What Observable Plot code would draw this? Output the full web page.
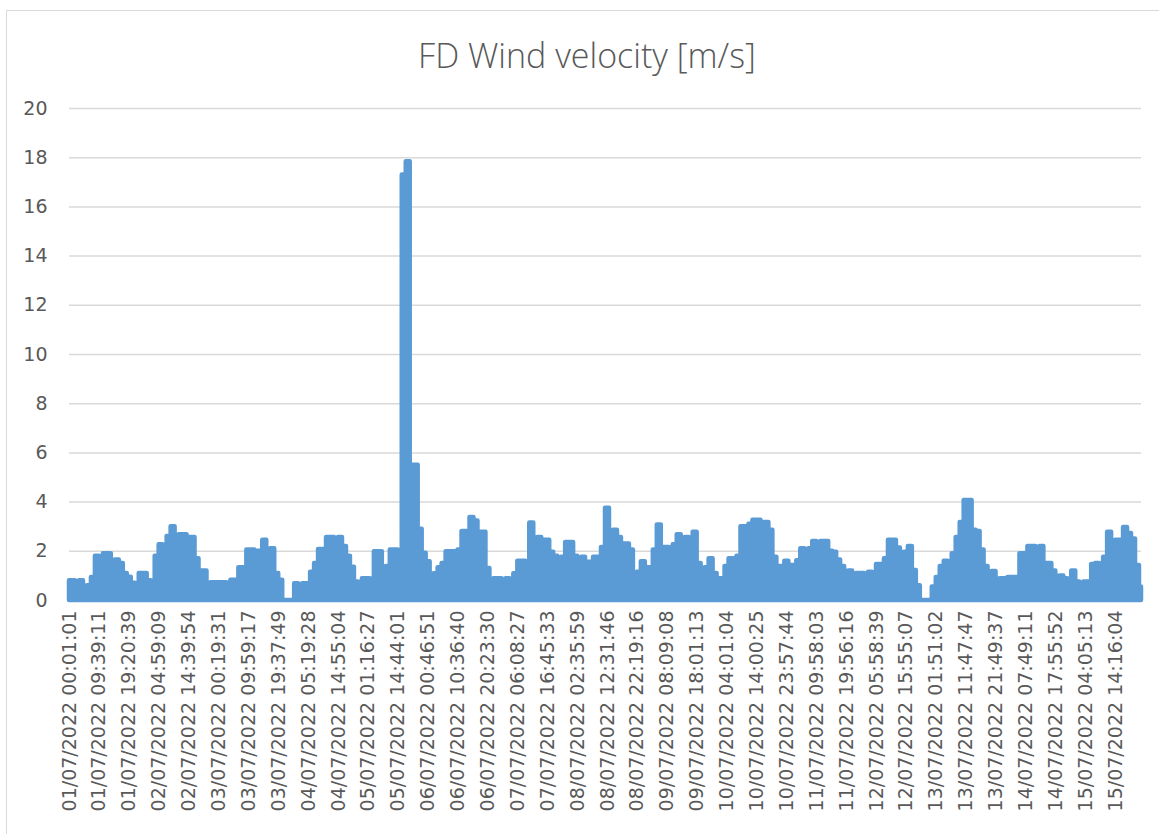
<!DOCTYPE html>
<html>
<head>
<meta charset="utf-8">
<script src="https://cdn.jsdelivr.net/npm/d3@7"></script>
<script src="https://cdn.jsdelivr.net/npm/@observablehq/plot@0.6"></script>
<style>
  html, body { margin: 0; padding: 0; background: #fff; }
  #chart { position: relative; width: 1159px; height: 834px; overflow: hidden; background: #fff; }
  #frame { position: absolute; left: 6px; top: 10px; width: 1200px; height: 900px; border-left: 1.5px solid #D9D9D9; border-top: 1.5px solid #D9D9D9; }
  #title { position: absolute; left: 0; top: 32px; width: 1174px; text-align: center; font-family: "Open Sans", sans-serif; font-weight: 300; font-size: 34px; line-height: 46px; color: #595959; }
  #plot { position: absolute; left: 0; top: 95px; }
</style>
</head>
<body>
<div id="chart">
  <div id="frame"></div>
  <div id="title">FD Wind velocity [m/s]</div>
  <div id="plot"></div>
</div>
<script>
// Wind velocity [m/s] at regular steps along the time axis
const values = [
  0.8, 0.8, 0.6, 0.8, 0.1, 0.6, 0.93, 1.8, 1.4, 1.9,
  1.9, 1.4, 1.65, 1.5, 1.1, 0.95, 0.7, 0.6, 1.1, 1.1,
  0.8, 0, 1.8, 2.27, 2.15, 2.6, 3.0, 2.1, 2.67, 2.67,
  2.56, 2.56, 1.7, 1.2, 1.2, 0.5, 0.72, 0.72, 0.72, 0.72,
  0.63, 0.82, 0.82, 1.33, 1.33, 2.05, 2.05, 2.0, 2.0, 2.45,
  1.8, 2.1, 1.1, 0.82, 0, 0, 0, 0.68, 0, 0.68,
  0.68, 1.15, 1.5, 2.07, 2.07, 2.56, 2.56, 2.2, 2.56, 2.2,
  1.8, 1.35, 0.75, 0, 0.88, 0.88, 0, 1.98, 1.98, 0,
  1.38, 2.05, 2.05, 1.96, 17.3, 17.84, 5.5, 5.5, 2.9, 1.92,
  1.58, 0.88, 1.09, 1.33, 1.5, 1.98, 1.98, 1.98, 2.05, 2.8,
  2.8, 3.37, 3.23, 2.77, 2.77, 1.3, 0.75, 0.88, 0.88, 0.2,
  0.88, 0.62, 1.09, 1.6, 1.6, 1.55, 3.15, 2.3, 2.56, 2.45,
  2.45, 1.96, 1.8, 1.3, 1.76, 2.36, 2.36, 1.8, 1.3, 1.76,
  1.55, 1.55, 1.76, 1.76, 2.15, 3.75, 2.4, 2.86, 2.56, 2.3,
  2.3, 2.05, 1.0, 1.15, 1.58, 1.33, 1.33, 2.05, 3.07, 2.15,
  2.15, 1.7, 2.27, 2.67, 2.45, 2.56, 2.0, 2.77, 1.5, 1.1,
  1.33, 1.7, 1.1, 0.88, 0.88, 1.38, 1.7, 1.7, 1.8, 3.0,
  3.0, 3.1, 3.26, 3.26, 3.17, 3.17, 2.86, 1.76, 1.38, 1.38,
  1.6, 1.42, 1.42, 1.62, 2.1, 1.96, 2.1, 2.4, 1.8, 2.4,
  2.4, 2.0, 1.96, 1.65, 1.38, 1.09, 1.2, 0.82, 1.1, 1.1,
  0.82, 1.15, 1.1, 1.46, 1.46, 1.7, 2.45, 2.45, 2.13, 1.7,
  1.96, 2.2, 1.22, 0.6, 0, 0, 0, 0.55, 0.93, 1.38,
  1.6, 1.42, 1.9, 2.56, 3.17, 4.07, 4.07, 2.86, 2.8, 2.05,
  1.38, 0.88, 1.18, 0.82, 0.88, 0.88, 0.93, 0.93, 0.93, 1.9,
  1.9, 2.2, 2.2, 1.8, 2.2, 1.5, 1.5, 1.2, 0.8, 1.0,
  0.88, 0.8, 1.2, 0.75, 0.62, 0.75, 0.75, 1.46, 1.5, 1.15,
  1.76, 2.77, 2.43, 2.45, 2.45, 2.97, 2.72, 2.5, 1.42, 0.55
];

// Category labels shown on the time axis (one every 7.5 samples)
const tickLabels = [
  "01/07/2022 00:01:01", "01/07/2022 09:39:11", "01/07/2022 19:20:39",
  "02/07/2022 04:59:09", "02/07/2022 14:39:54", "03/07/2022 00:19:31",
  "03/07/2022 09:59:17", "03/07/2022 19:37:49", "04/07/2022 05:19:28",
  "04/07/2022 14:55:04", "05/07/2022 01:16:27", "05/07/2022 14:44:01",
  "06/07/2022 00:46:51", "06/07/2022 10:36:40", "06/07/2022 20:23:30",
  "07/07/2022 06:08:27", "07/07/2022 16:45:33", "08/07/2022 02:35:59",
  "08/07/2022 12:31:46", "08/07/2022 22:19:16", "09/07/2022 08:09:08",
  "09/07/2022 18:01:13", "10/07/2022 04:01:04", "10/07/2022 14:00:25",
  "10/07/2022 23:57:44", "11/07/2022 09:58:03", "11/07/2022 19:56:16",
  "12/07/2022 05:58:39", "12/07/2022 15:55:07", "13/07/2022 01:51:02",
  "13/07/2022 11:47:47", "13/07/2022 21:49:37", "14/07/2022 07:49:11",
  "14/07/2022 17:55:52", "15/07/2022 04:05:13", "15/07/2022 14:16:04"
];

const yTicks = [0, 2, 4, 6, 8, 10, 12, 14, 16, 18, 20];

const samplesPerLabel = 7.5;
const data = values.map((v, i) => ({i, v}));
const xTicks = tickLabels.map((_, k) => k * samplesPerLabel);

const chart = Plot.plot({
  width: 1159,
  height: 739,
  marginTop: 13,
  marginBottom: 234,
  marginLeft: 69,
  marginRight: 18,
  style: {fontFamily: "'DejaVu Sans', sans-serif", color: "#595959", background: "transparent"},
  x: {domain: [0, values.length - 1], axis: null},
  y: {domain: [0, 20], axis: null},
  marks: [
    Plot.gridY(yTicks, {stroke: "#D9D9D9", strokeOpacity: 1, strokeWidth: 1.5}),
    Plot.areaY(data, {
      x: "i", y: "v", curve: "step",
      fill: "#5B9BD5", stroke: "#5B9BD5", strokeWidth: 4.5,
      strokeLinejoin: "round", strokeLinecap: "round"
    }),
    Plot.axisY(yTicks, {tickSize: 0, tickPadding: 22, fontSize: 19, fill: "#595959", label: null}),
    Plot.axisX(xTicks, {
      tickSize: 0, tickPadding: 10, tickRotate: -90, fontSize: 19, fill: "#595959", label: null,
      tickFormat: d => tickLabels[Math.round(d / samplesPerLabel)]
    })
  ]
});
document.getElementById("plot").appendChild(chart);
</script>
</body>
</html>
